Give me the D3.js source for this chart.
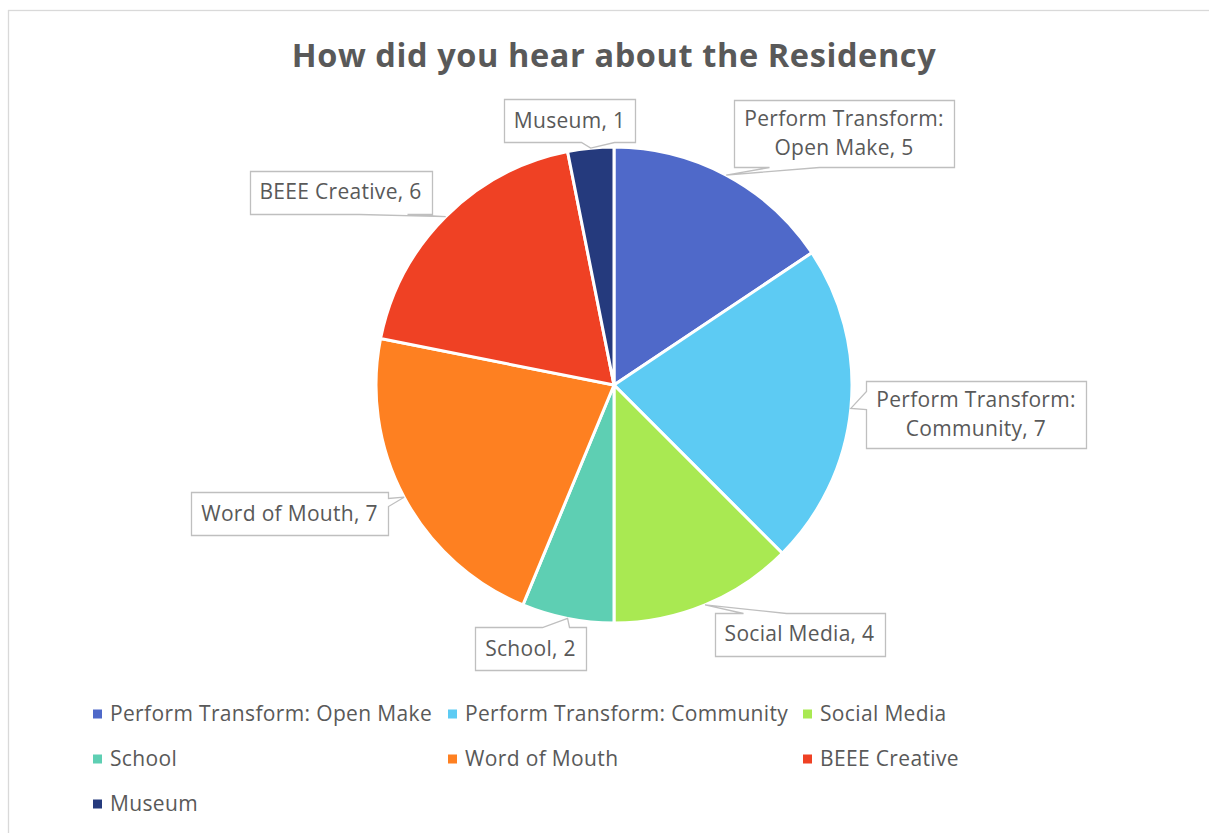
<!DOCTYPE html>
<html>
<head>
<meta charset="utf-8">
<script src="https://cdn.jsdelivr.net/npm/d3@7"></script>
<style>
  html, body { margin: 0; padding: 0; background: #fff; }
  svg { display: block; }
</style>
</head>
<body>
<svg id="chart" width="1209" height="833"></svg>
<script>
// Survey responses: how people heard about the residency
const categories = [
  "Perform Transform: Open Make",
  "Perform Transform: Community",
  "Social Media",
  "School",
  "Word of Mouth",
  "BEEE Creative",
  "Museum"
];
const counts = [5, 7, 4, 2, 7, 6, 1];
const sliceColors = ["#4F69C9", "#5DCBF3", "#A9E952", "#5ECFB3", "#FE8021", "#EF4124", "#253A7D"];
// Data label text lines (label wraps for the long names)
const labelLines = [
  ["Perform Transform:", "Open Make, 5"],
  ["Perform Transform:", "Community, 7"],
  ["Social Media, 4"],
  ["School, 2"],
  ["Word of Mouth, 7"],
  ["BEEE Creative, 6"],
  ["Museum, 1"]
];
const title = "How did you hear about the Residency";

// ---- layout ----
const W = 1209, H = 833;
const cx = 614, cy = 385, R = 238;
const textColor = "#595959";
const labelFont = "'Open Sans', sans-serif";

// callout box centres (relative to the pie centre) and where the pointer joins the box
const calloutLayout = [
  { dx: 230,  dy: -251.5, edge: "bottom", base: [35, 85] },
  { dx: 362,  dy: 29.5,   edge: "left",   base: [10, 28] },
  { dx: 185.5, dy: 249,   edge: "top",    base: [28, 71] },
  { dx: -83.5, dy: 263.5, edge: "top",    base: [67, 94] },
  { dx: -324.5, dy: 128.5, edge: "right", base: [6, 14] },
  { dx: -273.5, dy: -193, edge: "bottom", base: [109, 157] },
  { dx: -44.5, dy: -264.5, edge: "bottom", base: [77, 110] }
];

const svg = d3.select("#chart");

// outer chart border
svg.append("rect")
  .attr("x", 8.5).attr("y", 10.5)
  .attr("width", W + 20).attr("height", H + 20)
  .attr("fill", "#fff")
  .attr("stroke", "#D9D9D9")
  .attr("stroke-width", 1.3);

// title
svg.append("text")
  .attr("x", 614).attr("y", 67)
  .attr("text-anchor", "middle")
  .attr("font-family", labelFont)
  .attr("font-weight", 700)
  .attr("font-size", 32.5)
  .attr("letter-spacing", 0.6)
  .attr("fill", textColor)
  .text(title);

// pie
const data = categories.map((c, i) => ({ name: c, value: counts[i], color: sliceColors[i], lines: labelLines[i], layout: calloutLayout[i] }));
const pie = d3.pie().value(d => d.value).sort(null);
const arcs = pie(data);
const arc = d3.arc().innerRadius(0).outerRadius(R);

const g = svg.append("g").attr("transform", `translate(${cx},${cy})`);
g.selectAll("path.slice")
  .data(arcs)
  .join("path")
  .attr("class", "slice")
  .attr("d", arc)
  .attr("fill", d => d.data.color)
  .attr("stroke", "#fff")
  .attr("stroke-width", 3)
  .attr("stroke-linejoin", "round");

// callout labels
const lineH = 29;
const padX = 10, padY = 6;
arcs.forEach(a => {
  const d = a.data, L = d.layout;
  const mid = (a.startAngle + a.endAngle) / 2;
  const tip = [R * Math.sin(mid), -R * Math.cos(mid)];
  const lg = g.append("g");
  const txt = lg.append("text")
    .attr("font-family", labelFont)
    .attr("font-size", 21)
    .attr("letter-spacing", 0.3)
    .attr("fill", textColor)
    .attr("text-anchor", "middle");
  const n = d.lines.length;
  d.lines.forEach((t, i) => {
    txt.append("tspan")
      .attr("x", L.dx)
      .attr("y", L.dy + (i - (n - 1) / 2) * lineH)
      .attr("dy", "0.35em")
      .text(t);
  });
  let tw = 0;
  txt.selectAll("tspan").each(function () { tw = Math.max(tw, this.getComputedTextLength()); });
  const bw = Math.round(tw + 2 * padX), bh = Math.round(n * lineH + 2 * padY + (n === 1 ? 2 : -3));
  const x0 = Math.round(L.dx - bw / 2) + 0.5, y0 = Math.round(L.dy - bh / 2) + 0.5;
  const x1 = x0 + bw, y1 = y0 + bh;
  const [b0, b1] = L.base;
  let pts;
  if (L.edge === "bottom") {
    pts = [[x0, y0], [x1, y0], [x1, y1], [x0 + b1, y1], tip, [x0 + b0, y1], [x0, y1]];
  } else if (L.edge === "top") {
    pts = [[x0, y0], [x0 + b0, y0], tip, [x0 + b1, y0], [x1, y0], [x1, y1], [x0, y1]];
  } else if (L.edge === "left") {
    pts = [[x0, y0], [x1, y0], [x1, y1], [x0, y1], [x0, y0 + b1], tip, [x0, y0 + b0]];
  } else {
    pts = [[x0, y0], [x1, y0], [x1, y0 + b0], tip, [x1, y0 + b1], [x1, y1], [x0, y1]];
  }
  lg.insert("path", "text")
    .attr("d", d3.line()(pts) + "Z")
    .attr("fill", "#fff")
    .attr("stroke", "#BFBFBF")
    .attr("stroke-width", 1.3);
});

// legend
const legendCols = [93, 448, 803];
const legendRows = [714, 759, 804];
const lgd = svg.append("g");
data.forEach((d, i) => {
  const x = legendCols[i % 3], y = legendRows[Math.floor(i / 3)];
  lgd.append("rect")
    .attr("x", x).attr("y", y - 4.5)
    .attr("width", 9).attr("height", 9)
    .attr("fill", d.color);
  lgd.append("text")
    .attr("x", x + 17).attr("y", y)
    .attr("dy", "0.35em")
    .attr("font-family", labelFont)
    .attr("font-size", 21)
    .attr("letter-spacing", 0.35)
    .attr("fill", textColor)
    .text(d.name);
});
</script>
</body>
</html>
